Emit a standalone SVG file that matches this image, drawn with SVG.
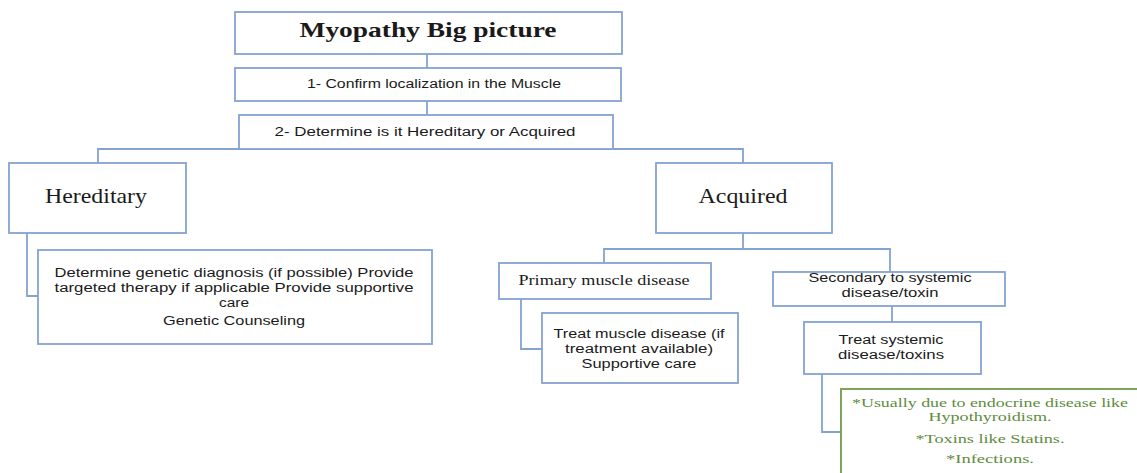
<svg xmlns="http://www.w3.org/2000/svg" width="1137" height="473" viewBox="0 0 1137 473">
<style>
.box{fill:#fff;stroke:#84a2d2;stroke-width:1.8}
.gbox{fill:#fff;stroke:#7fa35a;stroke-width:2}
.con{fill:none;stroke:#84a2d2;stroke-width:1.8}
.serif{font-family:"Liberation Serif","Times New Roman",serif;fill:#1a1a1a;text-anchor:middle}
.sans{font-family:"Liberation Sans",Arial,sans-serif;fill:#1a1a1a;text-anchor:middle;font-size:12.5px}
.green{font-family:"Liberation Serif","Times New Roman",serif;fill:#5e8c3c;text-anchor:middle;font-size:13px}
</style>
<rect width="1137" height="473" fill="#fff"/>
<g id="connectors">
<path class="con" d="M427 54V68"/>
<path class="con" d="M427 101V115"/>
<path class="con" d="M98 163V149H743V163"/>
<path class="con" d="M27 233V296H38"/>
<path class="con" d="M743 233V249"/>
<path class="con" d="M604 263V249H890V272"/>
<path class="con" d="M521 299V349H542"/>
<path class="con" d="M892 306V322"/>
<path class="con" d="M822 374V432H841"/>
</g>
<g id="title">
<rect class="box" x="235" y="12" width="387" height="42"/>
<text class="serif" x="428" y="37" font-size="22" font-weight="bold" textLength="257" lengthAdjust="spacingAndGlyphs">Myopathy Big picture</text>
</g>
<g id="step1">
<rect class="box" x="235" y="68" width="386" height="33"/>
<text class="sans" x="434" y="88" textLength="254" lengthAdjust="spacingAndGlyphs">1- Confirm localization in the Muscle</text>
</g>
<g id="step2">
<rect class="box" x="239" y="115" width="374" height="34"/>
<text class="sans" x="425" y="136" textLength="301" lengthAdjust="spacingAndGlyphs">2- Determine is it Hereditary or Acquired</text>
</g>
<g id="hereditary">
<rect class="box" x="9" y="163" width="177" height="70"/>
<text class="serif" x="96" y="203" font-size="21" textLength="102" lengthAdjust="spacingAndGlyphs">Hereditary</text>
</g>
<g id="hereditary-mgmt">
<rect class="box" x="38" y="250" width="394" height="94"/>
<text class="sans" x="234" y="277" textLength="359" lengthAdjust="spacingAndGlyphs">Determine genetic diagnosis (if possible) Provide</text>
<text class="sans" x="234" y="292" textLength="359" lengthAdjust="spacingAndGlyphs">targeted therapy if applicable Provide supportive</text>
<text class="sans" x="234" y="307" textLength="30" lengthAdjust="spacingAndGlyphs">care</text>
<text class="sans" x="234" y="325" textLength="142" lengthAdjust="spacingAndGlyphs">Genetic Counseling</text>
</g>
<g id="acquired">
<rect class="box" x="656" y="163" width="176" height="70"/>
<text class="serif" x="743" y="203" font-size="21" textLength="89" lengthAdjust="spacingAndGlyphs">Acquired</text>
</g>
<g id="primary">
<rect class="box" x="499" y="263" width="212" height="36"/>
<text class="serif" x="604" y="285" font-size="15" textLength="171" lengthAdjust="spacingAndGlyphs">Primary muscle disease</text>
</g>
<g id="primary-treat">
<rect class="box" x="542" y="313" width="196" height="70"/>
<text class="sans" x="639" y="338" textLength="171" lengthAdjust="spacingAndGlyphs">Treat muscle disease (if</text>
<text class="sans" x="639" y="353" textLength="148" lengthAdjust="spacingAndGlyphs">treatment available)</text>
<text class="sans" x="639" y="368" textLength="115" lengthAdjust="spacingAndGlyphs">Supportive care</text>
</g>
<g id="secondary">
<rect class="box" x="773" y="272" width="232" height="34"/>
<text class="sans" x="890" y="282" textLength="163" lengthAdjust="spacingAndGlyphs">Secondary to systemic</text>
<text class="sans" x="890" y="297" textLength="97" lengthAdjust="spacingAndGlyphs">disease/toxin</text>
</g>
<g id="secondary-treat">
<rect class="box" x="804" y="322" width="177" height="52"/>
<text class="sans" x="891" y="344" textLength="105" lengthAdjust="spacingAndGlyphs">Treat systemic</text>
<text class="sans" x="891" y="359" textLength="106" lengthAdjust="spacingAndGlyphs">disease/toxins</text>
</g>
<g id="causes">
<rect class="gbox" x="841" y="389" width="310" height="100"/>
<text class="green" x="990" y="407" textLength="276" lengthAdjust="spacingAndGlyphs">*Usually due to endocrine disease like</text>
<text class="green" x="990" y="421" textLength="123" lengthAdjust="spacingAndGlyphs">Hypothyroidism.</text>
<text class="green" x="990" y="443" textLength="149" lengthAdjust="spacingAndGlyphs">*Toxins like Statins.</text>
<text class="green" x="990" y="463" textLength="88" lengthAdjust="spacingAndGlyphs">*Infections.</text>
</g>
</svg>
